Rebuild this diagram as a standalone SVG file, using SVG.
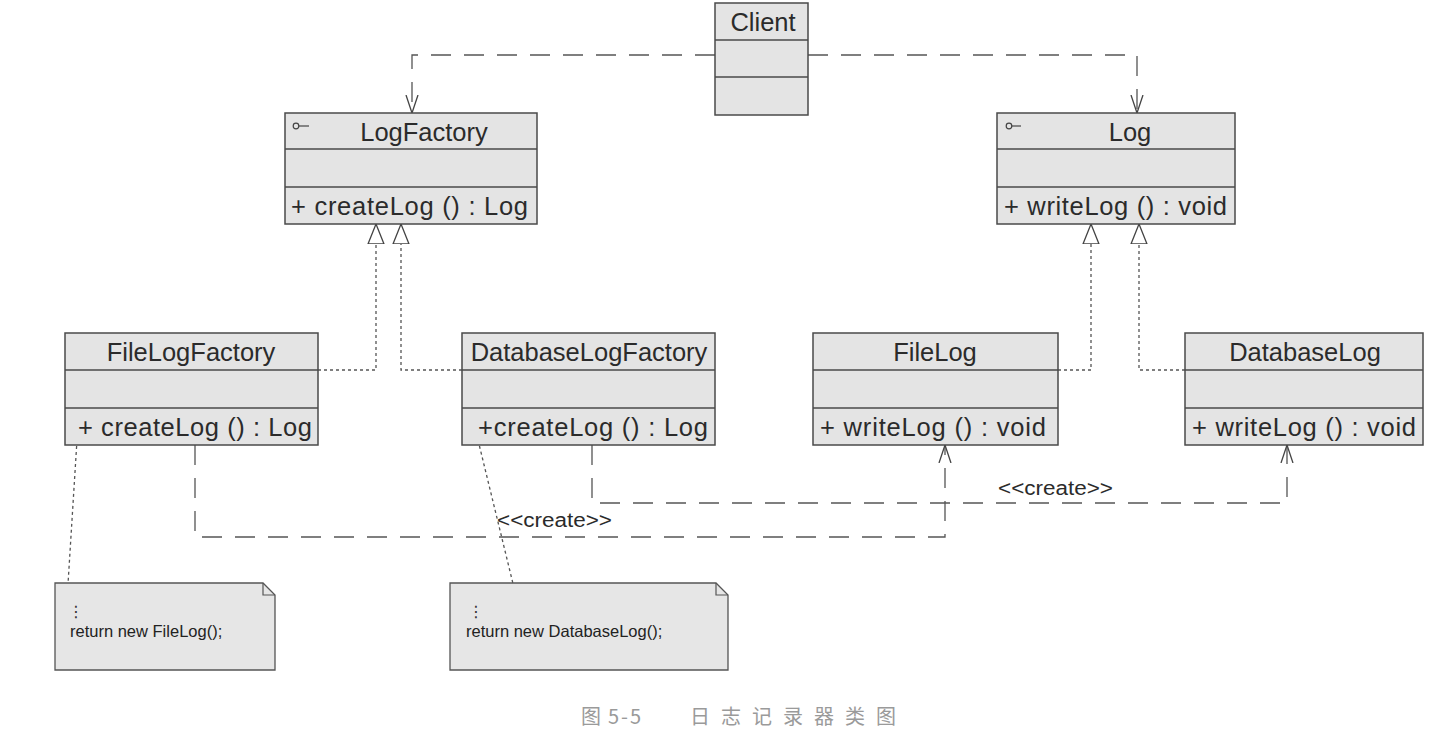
<svg xmlns="http://www.w3.org/2000/svg" width="1436" height="756" viewBox="0 0 1436 756">
<style>
.box{fill:#e4e4e4;stroke:#4a4a4a;stroke-width:1.5}
.sep{stroke:#4a4a4a;stroke-width:1.5;fill:none}
.t{font-family:"Liberation Sans",Arial,sans-serif;font-size:25.5px;fill:#2b2b2b}
.c{text-anchor:middle}
.dash{fill:none;stroke:#555;stroke-width:1.3;stroke-dasharray:20 13}
.dot{fill:none;stroke:#555;stroke-width:1.3;stroke-dasharray:3 3}
.icon{fill:none;stroke:#444;stroke-width:1.2}
.note{fill:#e6e6e6;stroke:#555;stroke-width:1.3}
.nt{font-family:"Liberation Sans",Arial,sans-serif;font-size:16.5px;fill:#222}
.lbl{font-family:"Liberation Sans",Arial,sans-serif;font-size:20px;fill:#2b2b2b}
.cap{font-family:"Noto Sans CJK SC","Noto Sans CJK JP",sans-serif;font-size:20px;fill:#9a9a9a}
</style>
<defs>
<marker id="open" viewBox="0 0 19 14" refX="18" refY="7" markerWidth="19" markerHeight="14" orient="auto" markerUnits="userSpaceOnUse">
<path d="M0,1 L18,7 L0,13" fill="none" stroke="#444" stroke-width="1.3" stroke-dasharray="none"/>
</marker>
<marker id="tri" viewBox="0 0 21 18" refX="20" refY="9" markerWidth="21" markerHeight="18" orient="auto" markerUnits="userSpaceOnUse">
<path d="M0,1 L20,9 L0,17 Z" fill="#fff" stroke="#444" stroke-width="1.3" stroke-dasharray="none"/>
</marker>
</defs>
<rect width="1436" height="756" fill="#fff"/>

<g id="connectors">
<path class="dash" d="M715,55 H412 V113" marker-end="url(#open)"/>
<path class="dash" d="M808,55 H1137 V113" marker-end="url(#open)"/>
<path class="dot" d="M318,370 H376 V224" marker-end="url(#tri)"/>
<path class="dot" d="M462,370 H401 V224" marker-end="url(#tri)"/>
<path class="dot" d="M1058,370 H1091 V224" marker-end="url(#tri)"/>
<path class="dot" d="M1185,370 H1139 V224" marker-end="url(#tri)"/>
<path class="dash" d="M195,445 V537 H945 V445" marker-end="url(#open)"/>
<path class="dash" d="M592,445 V503 H1287 V445" marker-end="url(#open)"/>
<path class="dot" d="M77,440 L67,600"/>
<path class="dot" d="M478,440 L516,596"/>
<text class="lbl" x="497" y="527" textLength="115" lengthAdjust="spacingAndGlyphs">&lt;&lt;create&gt;&gt;</text>
<text class="lbl" x="998" y="495" textLength="115" lengthAdjust="spacingAndGlyphs">&lt;&lt;create&gt;&gt;</text>
</g>

<g id="Client">
<rect class="box" x="715" y="3" width="93" height="112"/>
<path class="sep" d="M715,40 H808 M715,77 H808"/>
<text class="t c" x="763" y="31">Client</text>
</g>

<g id="LogFactory">
<rect class="box" x="285" y="113" width="252" height="111"/>
<path class="sep" d="M285,149 H537 M285,187 H537"/>
<circle class="icon" cx="296" cy="126" r="2.8"/>
<path class="icon" d="M299,126 H309"/>
<text class="t c" x="424" y="141">LogFactory</text>
<text class="t" x="291" y="215" textLength="237">+ createLog () : Log</text>
</g>

<g id="Log">
<rect class="box" x="997" y="113" width="238" height="111"/>
<path class="sep" d="M997,149 H1235 M997,187 H1235"/>
<circle class="icon" cx="1009" cy="126" r="2.8"/>
<path class="icon" d="M1012,126 H1021"/>
<text class="t c" x="1130" y="141">Log</text>
<text class="t" x="1004" y="215" textLength="223">+ writeLog () : void</text>
</g>

<g id="FileLogFactory">
<rect class="box" x="65" y="333" width="253" height="112"/>
<path class="sep" d="M65,370 H318 M65,408 H318"/>
<text class="t c" x="191" y="361">FileLogFactory</text>
<text class="t" x="78" y="436" textLength="234">+ createLog () : Log</text>
</g>

<g id="DatabaseLogFactory">
<rect class="box" x="462" y="333" width="253" height="112"/>
<path class="sep" d="M462,370 H715 M462,408 H715"/>
<text class="t c" x="589" y="361">DatabaseLogFactory</text>
<text class="t" x="478" y="436" textLength="230">+createLog () : Log</text>
</g>

<g id="FileLog">
<rect class="box" x="813" y="333" width="245" height="112"/>
<path class="sep" d="M813,370 H1058 M813,408 H1058"/>
<text class="t c" x="935" y="361">FileLog</text>
<text class="t" x="820" y="436" textLength="226">+ writeLog () : void</text>
</g>

<g id="DatabaseLog">
<rect class="box" x="1185" y="333" width="238" height="112"/>
<path class="sep" d="M1185,370 H1423 M1185,408 H1423"/>
<text class="t c" x="1305" y="361">DatabaseLog</text>
<text class="t" x="1192" y="436" textLength="224">+ writeLog () : void</text>
</g>

<g id="note1">
<path class="note" d="M55,583 H263 L275,595 V670 H55 Z"/>
<path class="sep" style="stroke:#555;stroke-width:1.2" d="M263,583 V595 H275"/>
<text x="68" y="617" style="font-family:'DejaVu Sans',sans-serif;font-size:16px;fill:#333">⋮</text>
<text class="nt" x="70" y="637">return new FileLog();</text>
</g>

<g id="note2">
<path class="note" d="M450,583 H716 L728,595 V670 H450 Z"/>
<path class="sep" style="stroke:#555;stroke-width:1.2" d="M716,583 V595 H728"/>
<text x="468" y="617" style="font-family:'DejaVu Sans',sans-serif;font-size:16px;fill:#333">⋮</text>
<text class="nt" x="466" y="637">return new DatabaseLog();</text>
</g>

<g id="caption">
<text class="cap"><tspan x="581" y="724">图</tspan><tspan x="608" y="724" letter-spacing="2">5-5</tspan><tspan x="690" y="724" letter-spacing="11">日志记录器类图</tspan></text>
</g>
</svg>
